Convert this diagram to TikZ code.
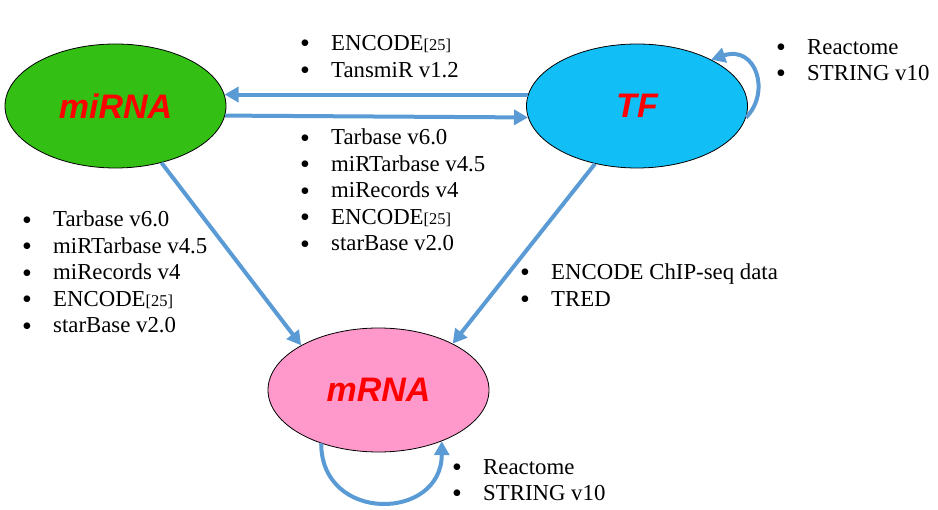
\documentclass[tikz,border=0pt]{standalone}
\usepackage{fontspec}
\setmainfont{Liberation Serif}
\newfontfamily\lsans{Liberation Sans}
\usetikzlibrary{shapes.geometric,arrows.meta}
\definecolor{arrblue}{RGB}{91,155,213}
\definecolor{mirgreen}{RGB}{51,191,20}
\definecolor{tfblue}{RGB}{17,190,245}
\definecolor{mrnapink}{RGB}{255,153,204}
\newcommand\bitem[1]{\makebox[31pt][l]{\smash{\raisebox{-2.3pt}{\fontsize{28}{22}\selectfont\textbullet}}}#1}
\newcommand\refsm[1]{{\fontsize{16.5}{16}\selectfont[#1]}}
\begin{document}
\begin{tikzpicture}[x=1pt,y=-1pt,
 ell/.style={ellipse,draw=black,line width=0.8pt,minimum width=221pt,minimum height=124pt,inner sep=0pt,font=\lsans\bfseries\itshape\fontsize{34}{34}\selectfont,text=red},
 arr/.style={draw=arrblue,line width=4pt,-{Triangle[length=14pt,width=15pt]}},
 lst/.style={anchor=west,align=left,inner sep=0pt,font=\fontsize{22.8}{26.5}\selectfont}]
\useasboundingbox (0,0) rectangle (938,510);
\node[ell,fill=mirgreen] (miRNA) at (115.5,106) {miRNA};
\node[ell,fill=tfblue] (TF) at (637,106) {TF};
\node[ell,fill=mrnapink] (mRNA) at (378.5,390) {mRNA};
% connectors
\draw[arr] (TF.174) -- (miRNA.6);
\draw[arr] (miRNA.-5) -- (TF.186);
\draw[arr] (miRNA.-51) -- (mRNA.150);
\draw[arr] (TF.-126) -- (mRNA.32);
\draw[arr] (TF.-6) .. controls +(25,-25) and +(45,-15) .. (TF.32);
\draw[arr] (mRNA.-137) .. controls +(0,80) and +(0,80) .. (mRNA.-39);
% labels
\node[lst] (g1) at (300,56.5) {\bitem{ENCODE\refsm{25}}\\\bitem{TansmiR v1.2}};
\node[lst] (g2) at (300,190) {\bitem{Tarbase v6.0}\\\bitem{miRTarbase v4.5}\\\bitem{miRecords v4}\\\bitem{ENCODE\refsm{25}}\\\bitem{starBase v2.0}};
\node[lst] (g3) at (22,272) {\bitem{Tarbase v6.0}\\\bitem{miRTarbase v4.5}\\\bitem{miRecords v4}\\\bitem{ENCODE\refsm{25}}\\\bitem{starBase v2.0}};
\node[lst] (g4) at (776,60) {\bitem{Reactome}\\\bitem{STRING v10}};
\node[lst] (g5) at (520,285) {\bitem{ENCODE ChIP-seq data}\\\bitem{TRED}};
\node[lst] (g6) at (452,480) {\bitem{Reactome}\\\bitem{STRING v10}};
\end{tikzpicture}
\end{document}
